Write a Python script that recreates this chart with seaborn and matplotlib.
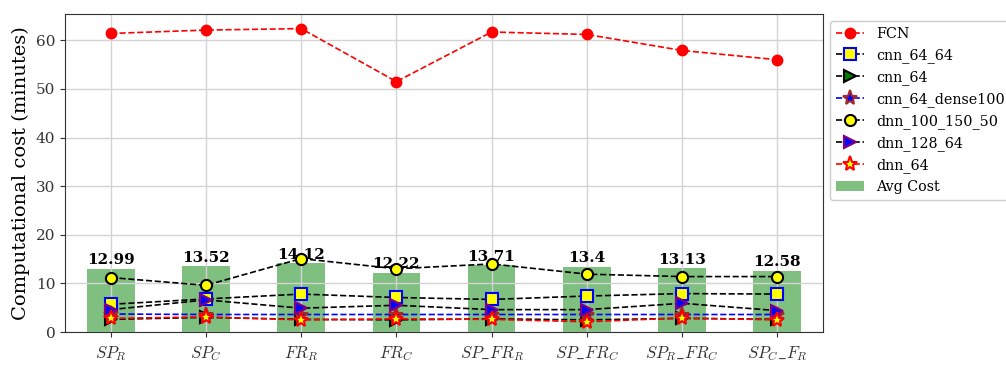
import matplotlib
matplotlib.use("Agg")
import matplotlib.pyplot as plt
import numpy as np
import seaborn as sns

plt.rcParams["font.family"] = ["DejaVu Serif"]
plt.rcParams["mathtext.fontset"] = "cm"

# Feature-set configurations (x axis)
categories = [r"$SP_R$", r"$SP_C$", r"$FR_R$", r"$FR_C$",
              r"$SP\_FR_R$", r"$SP\_FR_C$", r"$SP_R\_FR_C$", r"$SP_C\_F_R$"]

# Computational cost per model (minutes)
fcn = [61.4, 62.1, 62.4, 51.5, 61.7, 61.2, 57.9, 56.0]
cnn_64_64 = [5.7, 6.8, 7.8, 7.1, 6.7, 7.4, 7.9, 7.8]
cnn_64 = [2.6, 3.0, 2.6, 2.5, 2.7, 2.5, 2.8, 2.6]
cnn_64_dense100 = [3.7, 3.6, 3.6, 3.6, 3.6, 3.6, 3.6, 3.6]
dnn_100_150_50 = [11.2, 9.6, 15.1, 13.0, 14.0, 11.9, 11.4, 11.4]
dnn_128_64 = [4.6, 6.6, 4.9, 5.5, 4.6, 4.6, 5.9, 4.4]
dnn_64 = [2.8, 3.1, 2.5, 2.7, 2.6, 2.1, 2.9, 2.5]

# Average cost over all models per configuration
avg_cost = [12.99, 13.52, 14.12, 12.22, 13.71, 13.4, 13.13, 12.58]

fig = plt.figure(figsize=(10.06, 3.65), dpi=100)
ax = fig.add_axes([0.0646, 0.0904, 0.7535, 0.8712])

sns.barplot(x=categories, y=avg_cost, color="green", alpha=0.5, width=0.5,
            saturation=1, label="Avg Cost", ax=ax, zorder=1)
ax.bar_label(ax.containers[0], fontweight="bold", fontsize=11, padding=1)

pos = np.arange(len(categories))
series = [
    ("FCN", fcn, dict(color="red", marker="o", mfc="red", mec="red", ms=7)),
    ("cnn_64_64", cnn_64_64, dict(color="black", marker="s", mfc="yellow", mec="blue")),
    ("cnn_64", cnn_64, dict(color="black", marker=">", mfc="green", mec="black")),
    ("cnn_64_dense100", cnn_64_dense100, dict(color="blue", marker="*", mfc="blue", mec="brown", ms=11)),
    ("dnn_100_150_50", dnn_100_150_50, dict(color="black", marker="o", mfc="yellow", mec="black")),
    ("dnn_128_64", dnn_128_64, dict(color="black", marker=">", mfc="blue", mec="purple")),
    ("dnn_64", dnn_64, dict(color="red", marker="*", mfc="yellow", mec="red", ms=11)),
]
for name, vals, style in series:
    kw = dict(ms=8, mew=1.5, linestyle="--", linewidth=1.2)
    kw.update(style)
    sns.lineplot(x=pos, y=vals, ax=ax, label=name, zorder=4, **kw)

ax.set_xlim(-0.48, 7.48)
ax.set_ylim(0, 65.4)
ax.set_xticks(pos)
ax.set_xticklabels(categories, fontsize=12)
ax.tick_params(axis="x", pad=5, colors="#333333")
ax.tick_params(axis="y", labelsize=11, colors="#333333")
ax.grid(True, color="#d3d3d3", linewidth=1)
ax.set_axisbelow("line")
ax.set_ylabel("Computational cost (minutes)", fontsize=14)
ax.set_xlabel("")
for s in ax.spines.values():
    s.set_color("#333333")

ax.legend(loc="upper left", bbox_to_anchor=(1.0, 1.0), fontsize=10.3,
          borderaxespad=0.5, framealpha=1)

fig.savefig("out.png", dpi=100)
